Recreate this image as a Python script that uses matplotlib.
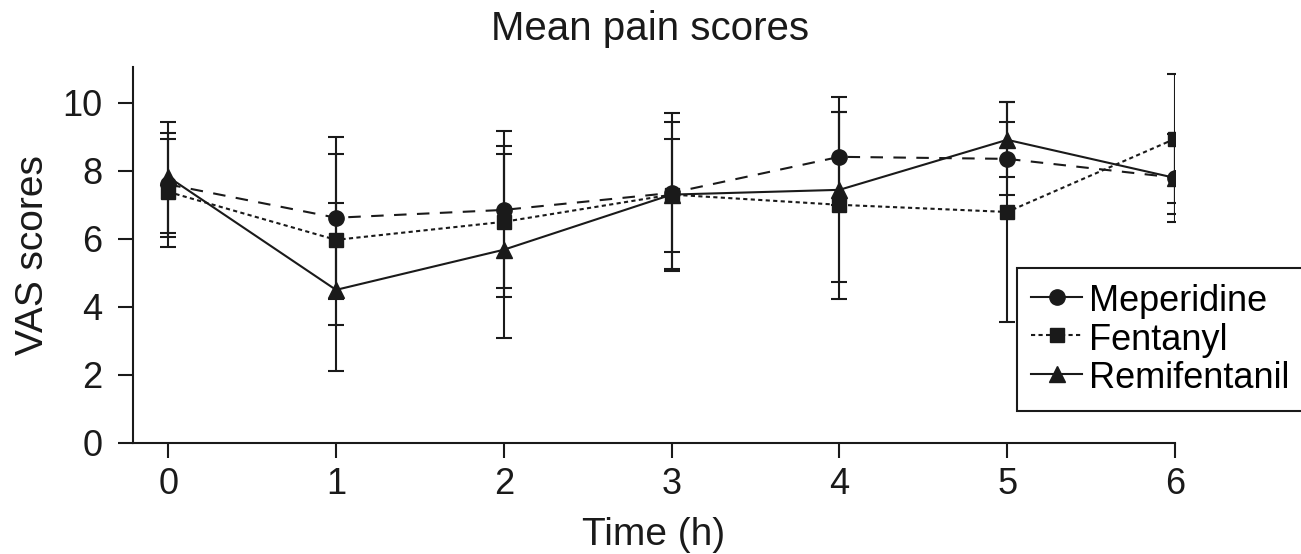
import matplotlib
matplotlib.use("Agg")
import matplotlib.pyplot as plt
from matplotlib.lines import Line2D

plt.rcParams['font.family'] = ['Liberation Sans', 'DejaVu Sans']

# Time points (h)
time = [0, 1, 2, 3, 4, 5, 6]

# Meperidine: mean, lower and upper error bounds
mep_mean = [7.6, 6.62, 6.85, 7.35, 8.41, 8.35, 7.8]
mep_lo = [6.06, 4.24, 4.56, 5.05, 7.0, 7.29, 6.74]
mep_hi = [9.1, 9.0, 9.18, 9.7, 9.74, 9.44, 8.86]

# Fentanyl
fen_mean = [7.38, 5.97, 6.5, 7.3, 7.0, 6.79, 8.94]
fen_lo = [5.76, 3.47, 4.3, 5.1, 4.24, 3.55, 7.06]
fen_hi = [8.94, 8.5, 8.74, 9.44, 9.74, 10.03, 10.85]

# Remifentanil
rem_mean = [7.82, 4.5, 5.68, 7.3, 7.44, 8.91, 7.79]
rem_lo = [6.18, 2.12, 3.09, 5.62, 4.74, 7.82, 6.5]
rem_hi = [9.44, 7.06, 8.5, 8.94, 10.18, 10.03, 9.08]

labels = ['Meperidine', 'Fentanyl', 'Remifentanil']

ink = '#1a1a1a'
W, H = 1301, 554
fig = plt.figure(figsize=(W / 100, H / 100), dpi=100)
ax = fig.add_axes([133 / W, 1 - 443 / H, (1175 - 133) / W, (443 - 67) / H])

series = [
    (mep_mean, mep_lo, mep_hi, 'o', 11, (0, (6, 5))),
    (fen_mean, fen_lo, fen_hi, 's', 10.5, (0, (2, 1.6))),
    (rem_mean, rem_lo, rem_hi, '^', 11, '-'),
]

for mean, lo, hi, mk, ms, ls in series:
    err = [[m - l for m, l in zip(mean, lo)], [h - m for m, h in zip(mean, hi)]]
    ax.errorbar(time, mean, yerr=err, fmt='none', ecolor=ink,
                elinewidth=1.5, capsize=6, capthick=1.5, zorder=2)
    ax.plot(time, mean, color=ink, linestyle=ls, linewidth=1.5,
            marker=mk, markersize=ms, markerfacecolor=ink,
            markeredgecolor=ink, zorder=3)

ax.set_xlim(-0.21, 6.0)
ax.set_ylim(0, 11.05)
ax.set_xticks(time)
ax.set_yticks([0, 2, 4, 6, 8, 10])
ax.spines['top'].set_visible(False)
ax.spines['right'].set_visible(False)
for s in ['left', 'bottom']:
    ax.spines[s].set_linewidth(1.5)
    ax.spines[s].set_color(ink)
ax.tick_params(axis='both', direction='out', length=11, width=1.5,
               colors=ink, labelsize=26)
ax.tick_params(axis='x', pad=6)
ax.tick_params(axis='y', pad=11)

ax.set_xlabel('Time (h)', fontsize=28, color=ink, labelpad=11)
ax.set_ylabel('VAS scores', fontsize=28, color=ink, labelpad=8)
fig.text(650 / W, 1 - 40 / H, 'Mean pain scores', fontsize=29,
         ha='center', va='baseline', color=ink)

handles = [
    Line2D([], [], color=ink, lw=1.5, ls='-', marker='o', markersize=11),
    Line2D([], [], color=ink, lw=1.5, ls=(0, (2, 1.6)), marker='s', markersize=10),
    Line2D([], [], color=ink, lw=1.5, ls='-', marker='^', markersize=11),
]
leg = ax.legend(handles, labels, loc='upper left',
                bbox_to_anchor=(1017 / W, 1 - 268 / H),
                bbox_transform=fig.transFigure, borderaxespad=0,
                fontsize=26, frameon=True, fancybox=False,
                handlelength=1.4, handleheight=1.0, handletextpad=0.2,
                labelspacing=0.06, borderpad=0.4)
leg.get_frame().set_edgecolor(ink)
leg.get_frame().set_linewidth(1.5)
leg.get_frame().set_alpha(1)

fig.savefig('out.png', dpi=100)
